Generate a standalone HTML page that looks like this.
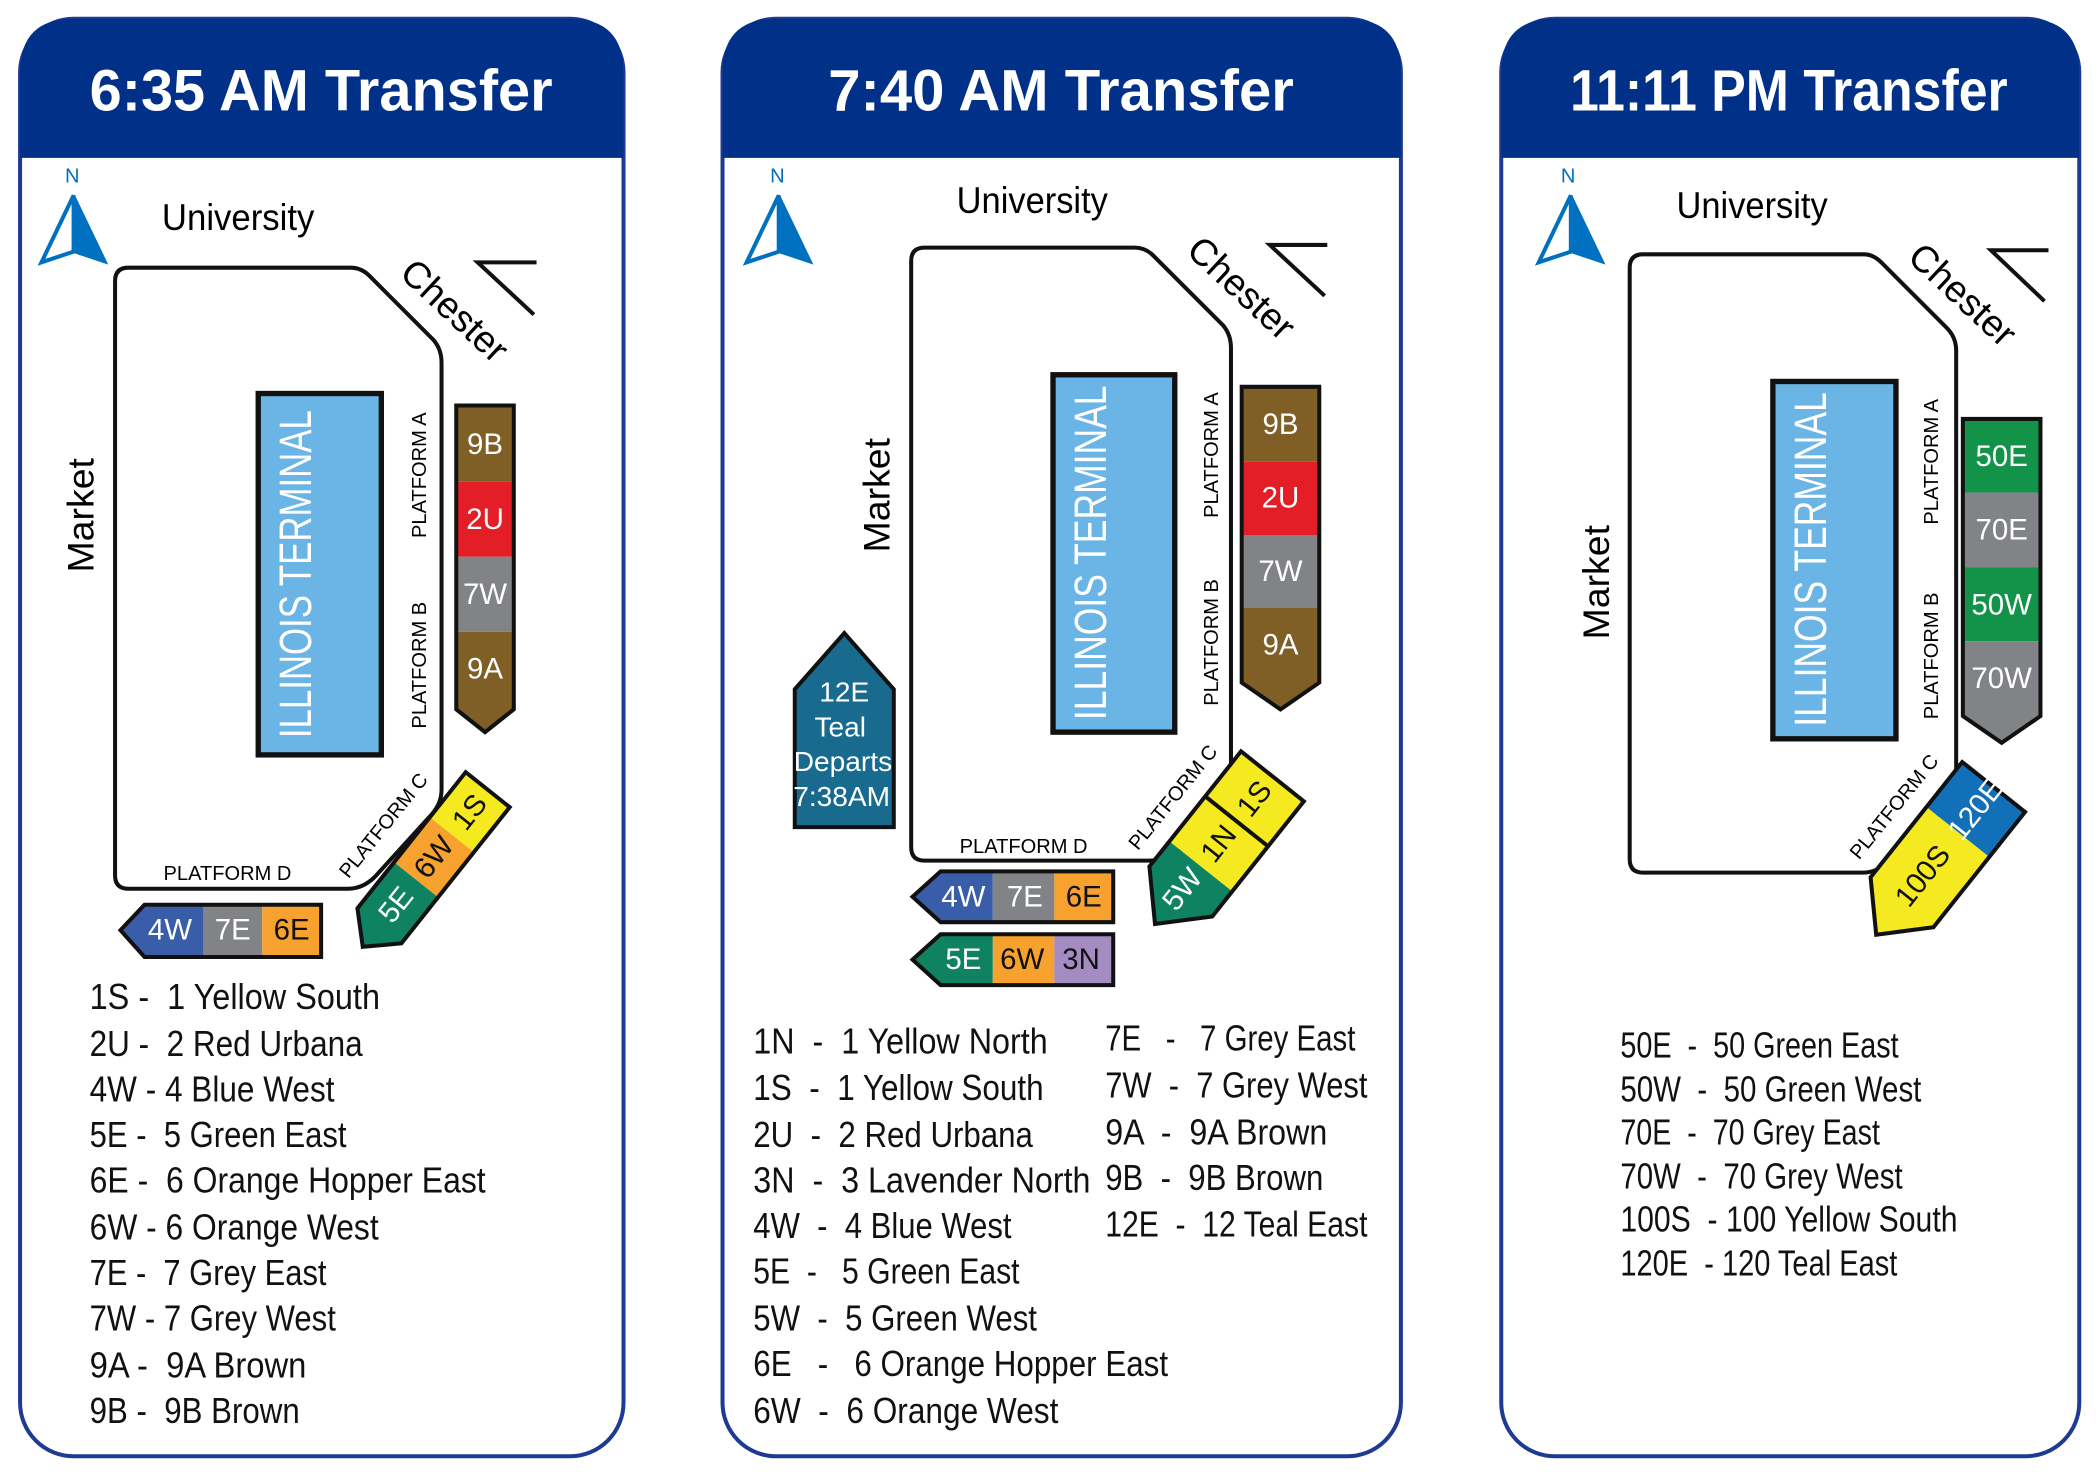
<!DOCTYPE html>
<html><head><meta charset="utf-8"><style>
html,body{margin:0;padding:0;background:#fff}
svg{display:block}
text{font-family:"Liberation Sans",sans-serif}
.lg{font-family:"Liberation Sans Narrow","Liberation Sans",sans-serif;font-size:27px;fill:#111;white-space:pre}
.st{font-size:22px;text-anchor:middle;dominant-baseline:central}
.pl{font-size:15px;text-anchor:middle;dominant-baseline:central}
.rd{font-size:28px;text-anchor:middle;dominant-baseline:central}
.tt{font-size:44px;font-weight:bold;fill:#fff;text-anchor:middle;dominant-baseline:central}
.it{font-size:34px;fill:#fff;text-anchor:middle;dominant-baseline:central}
.tl{font-family:"Liberation Sans Narrow","Liberation Sans",sans-serif;font-size:21px;fill:#fff;text-anchor:middle;dominant-baseline:central}
</style></head><body>
<svg width="2098" height="1483" viewBox="0 0 1568 1108" preserveAspectRatio="none" xmlns="http://www.w3.org/2000/svg">

<!-- ============ PANEL 1 ============ -->
<rect x="15" y="14" width="451" height="1074" rx="40" fill="#fff" stroke="#1f3a93" stroke-width="3"/>
<path d="M15,118 V54 Q15,14 55,14 H426 Q466,14 466,54 V118 Z" fill="#003087"/>
<text class="tt" x="240" y="68" textLength="346" lengthAdjust="spacingAndGlyphs">6:35 AM Transfer</text>

<text x="54" y="132" font-size="15" fill="#0070c0" text-anchor="middle" dominant-baseline="central">N</text>
<polygon points="55,146 31,196 55,188" fill="#fff" stroke="#0070c0" stroke-width="3"/>
<polygon points="55,146 55,188 79,196" fill="#0070c0" stroke="#0070c0" stroke-width="2"/>
<text x="121" y="172" font-size="28" textLength="114" lengthAdjust="spacingAndGlyphs">University</text>

<path d="M96,200 H262 Q270,200 276,206 L324,254 Q330,261 330,271 V590 Q330,600 323,608 L283,652 Q273,664 260,664 H96 Q86,664 86,654 V210 Q86,200 96,200Z" fill="none" stroke="#111" stroke-width="3"/>
<path d="M401,196 H357 L399,235" fill="none" stroke="#111" stroke-width="3"/>
<text class="rd" transform="translate(340,232) rotate(43)">Chester</text>
<text class="rd" transform="translate(60,385) rotate(-90)">Market</text>

<rect x="193" y="294" width="92" height="270" fill="#6ab4e6" stroke="#111" stroke-width="4"/>
<text class="it" transform="translate(221,429) rotate(-90)" textLength="245" lengthAdjust="spacingAndGlyphs">ILLINOIS TERMINAL</text>
<text class="pl" transform="translate(314,355) rotate(-90)">PLATFORM A</text>
<text class="pl" transform="translate(314,497) rotate(-90)">PLATFORM B</text>
<text class="pl" transform="translate(287,617) rotate(-51)">PLATFORM C</text>
<text class="pl" x="170" y="653">PLATFORM D</text>

<rect x="341" y="303" width="43" height="57" fill="#7f5f25"/>
<rect x="341" y="360" width="43" height="56" fill="#e41e26"/>
<rect x="341" y="416" width="43" height="56" fill="#818386"/>
<polygon points="341,472 384,472 384,530 362.5,547 341,530" fill="#7f5f25"/>
<polygon points="341,303 384,303 384,530 362.5,547 341,530" fill="none" stroke="#111" stroke-width="3"/>
<text class="st" x="362.5" y="332" fill="#fff">9B</text>
<text class="st" x="362.5" y="388" fill="#fff">2U</text>
<text class="st" x="362.5" y="444" fill="#fff">7W</text>
<text class="st" x="362.5" y="500" fill="#fff">9A</text>

<g transform="translate(364.5,590) rotate(38.5)">
<rect x="-21" y="0" width="42" height="43" fill="#f4ea1f"/>
<rect x="-21" y="43" width="42" height="43" fill="#f7a12f"/>
<polygon points="-21,86 21,86 21,130 0,150 -21,130" fill="#0f8262"/>
<polygon points="-21,0 21,0 21,130 0,150 -21,130" fill="none" stroke="#111" stroke-width="3"/>
<text class="st" transform="translate(0,21.5) rotate(-90)" fill="#111">1S</text>
<text class="st" transform="translate(0,64.5) rotate(-90)" fill="#111">6W</text>
<text class="st" transform="translate(0,110) rotate(-90)" fill="#fff">5E</text>
</g>

<polygon points="90,695 108,676 152,676 152,715 108,715" fill="#3a5daa"/>
<rect x="152" y="676" width="44" height="39" fill="#818386"/>
<rect x="196" y="676" width="44" height="39" fill="#f7a12f"/>
<polygon points="90,695 108,676 240,676 240,715 108,715" fill="none" stroke="#111" stroke-width="3"/>
<text class="st" x="127" y="695" fill="#fff">4W</text>
<text class="st" x="174" y="695" fill="#fff">7E</text>
<text class="st" x="218" y="695" fill="#111">6E</text>

<text class="lg" x="67" y="754" textLength="217" lengthAdjust="spacingAndGlyphs">1S -  1 Yellow South</text>
<text class="lg" x="67" y="789" textLength="204" lengthAdjust="spacingAndGlyphs">2U -  2 Red Urbana</text>
<text class="lg" x="67" y="823" textLength="183" lengthAdjust="spacingAndGlyphs">4W - 4 Blue West</text>
<text class="lg" x="67" y="857" textLength="192" lengthAdjust="spacingAndGlyphs">5E -  5 Green East</text>
<text class="lg" x="67" y="891" textLength="296" lengthAdjust="spacingAndGlyphs">6E -  6 Orange Hopper East</text>
<text class="lg" x="67" y="926" textLength="216" lengthAdjust="spacingAndGlyphs">6W - 6 Orange West</text>
<text class="lg" x="67" y="960" textLength="177" lengthAdjust="spacingAndGlyphs">7E -  7 Grey East</text>
<text class="lg" x="67" y="994" textLength="184" lengthAdjust="spacingAndGlyphs">7W - 7 Grey West</text>
<text class="lg" x="67" y="1029" textLength="162" lengthAdjust="spacingAndGlyphs">9A -  9A Brown</text>
<text class="lg" x="67" y="1063" textLength="157" lengthAdjust="spacingAndGlyphs">9B -  9B Brown</text>

<!-- ============ PANEL 2 ============ -->
<rect x="540" y="14" width="507" height="1074" rx="40" fill="#fff" stroke="#1f3a93" stroke-width="3"/>
<path d="M540,118 V54 Q540,14 580,14 H1007 Q1047,14 1047,54 V118 Z" fill="#003087"/>
<text class="tt" x="793" y="68" textLength="348" lengthAdjust="spacingAndGlyphs">7:40 AM Transfer</text>

<text x="581" y="132" font-size="15" fill="#0070c0" text-anchor="middle" dominant-baseline="central">N</text>
<polygon points="582,146 558,196 582,188" fill="#fff" stroke="#0070c0" stroke-width="3"/>
<polygon points="582,146 582,188 606,196" fill="#0070c0" stroke="#0070c0" stroke-width="2"/>
<text x="715" y="159" font-size="28" textLength="113" lengthAdjust="spacingAndGlyphs">University</text>

<path d="M691,185 H848 Q856,185 862,191 L914,243 Q920,250 920,260 V595 Q920,605 913,613 L880,636 Q870,643 858,643 H691 Q681,643 681,633 V195 Q681,185 691,185Z" fill="none" stroke="#111" stroke-width="3"/>
<path d="M992,183 H949 L990,221" fill="none" stroke="#111" stroke-width="3"/>
<text class="rd" transform="translate(928,215) rotate(43)">Chester</text>
<text class="rd" transform="translate(655,370) rotate(-90)">Market</text>

<rect x="787" y="280" width="91" height="267" fill="#6ab4e6" stroke="#111" stroke-width="4"/>
<text class="it" transform="translate(815,413) rotate(-90)" textLength="250" lengthAdjust="spacingAndGlyphs">ILLINOIS TERMINAL</text>
<text class="pl" transform="translate(906,340) rotate(-90)">PLATFORM A</text>
<text class="pl" transform="translate(906,480) rotate(-90)">PLATFORM B</text>
<text class="pl" transform="translate(877,596) rotate(-51)">PLATFORM C</text>
<text class="pl" x="765" y="633">PLATFORM D</text>

<rect x="928" y="289" width="58" height="56" fill="#7f5f25"/>
<rect x="928" y="345" width="58" height="55" fill="#e41e26"/>
<rect x="928" y="400" width="58" height="54" fill="#818386"/>
<polygon points="928,454 986,454 986,510 957,530 928,510" fill="#7f5f25"/>
<polygon points="928,289 986,289 986,510 957,530 928,510" fill="none" stroke="#111" stroke-width="3"/>
<text class="st" x="957" y="317" fill="#fff">9B</text>
<text class="st" x="957" y="372" fill="#fff">2U</text>
<text class="st" x="957" y="427" fill="#fff">7W</text>
<text class="st" x="957" y="482" fill="#fff">9A</text>

<polygon points="631,473 668,515 668,618 594,618 594,515" fill="#186a8f" stroke="#111" stroke-width="3"/>
<text class="tl" x="631" y="517">12E</text>
<text class="tl" x="628" y="543">Teal</text>
<text class="tl" x="630" y="569">Departs</text>
<text class="tl" x="629" y="595">7:38AM</text>

<g transform="translate(951,580) rotate(38.5)">
<rect x="-30" y="0" width="60" height="86" fill="#f4ea1f"/>
<polygon points="-30,86 30,86 30,110 0,141 -30,110" fill="#0f8262"/>
<line x1="-30" y1="43" x2="30" y2="43" stroke="#111" stroke-width="3"/>
<polygon points="-30,0 30,0 30,110 0,141 -30,110" fill="none" stroke="#111" stroke-width="3"/>
<text class="st" transform="translate(0,21.5) rotate(-90)" fill="#111">1S</text>
<text class="st" transform="translate(0,64.5) rotate(-90)" fill="#111">1N</text>
<text class="st" transform="translate(0,108) rotate(-90)" fill="#fff">5W</text>
</g>

<polygon points="682,670 703,651 742,651 742,689 703,689" fill="#3a5daa"/>
<rect x="742" y="651" width="46" height="38" fill="#818386"/>
<rect x="788" y="651" width="44" height="38" fill="#f7a12f"/>
<polygon points="682,670 703,651 832,651 832,689 703,689" fill="none" stroke="#111" stroke-width="3"/>
<text class="st" x="720" y="670" fill="#fff">4W</text>
<text class="st" x="766" y="670" fill="#fff">7E</text>
<text class="st" x="810" y="670" fill="#111">6E</text>

<polygon points="682,717 703,698 742,698 742,736 703,736" fill="#0f8262"/>
<rect x="742" y="698" width="46" height="38" fill="#f7a12f"/>
<rect x="788" y="698" width="44" height="38" fill="#a48bc2"/>
<polygon points="682,717 703,698 832,698 832,736 703,736" fill="none" stroke="#111" stroke-width="3"/>
<text class="st" x="720" y="717" fill="#fff">5E</text>
<text class="st" x="764" y="717" fill="#111">6W</text>
<text class="st" x="808" y="717" fill="#111">3N</text>

<text class="lg" x="563" y="787" textLength="220" lengthAdjust="spacingAndGlyphs">1N  -  1 Yellow North</text>
<text class="lg" x="563" y="822" textLength="217" lengthAdjust="spacingAndGlyphs">1S  -  1 Yellow South</text>
<text class="lg" x="563" y="857" textLength="209" lengthAdjust="spacingAndGlyphs">2U  -  2 Red Urbana</text>
<text class="lg" x="563" y="891" textLength="252" lengthAdjust="spacingAndGlyphs">3N  -  3 Lavender North</text>
<text class="lg" x="563" y="925" textLength="193" lengthAdjust="spacingAndGlyphs">4W  -  4 Blue West</text>
<text class="lg" x="563" y="959" textLength="199" lengthAdjust="spacingAndGlyphs">5E  -   5 Green East</text>
<text class="lg" x="563" y="994" textLength="212" lengthAdjust="spacingAndGlyphs">5W  -  5 Green West</text>
<text class="lg" x="563" y="1028" textLength="310" lengthAdjust="spacingAndGlyphs">6E   -   6 Orange Hopper East</text>
<text class="lg" x="563" y="1063" textLength="228" lengthAdjust="spacingAndGlyphs">6W  -  6 Orange West</text>
<text class="lg" x="826" y="785" textLength="187" lengthAdjust="spacingAndGlyphs">7E   -   7 Grey East</text>
<text class="lg" x="826" y="820" textLength="196" lengthAdjust="spacingAndGlyphs">7W  -  7 Grey West</text>
<text class="lg" x="826" y="855" textLength="166" lengthAdjust="spacingAndGlyphs">9A  -  9A Brown</text>
<text class="lg" x="826" y="889" textLength="163" lengthAdjust="spacingAndGlyphs">9B  -  9B Brown</text>
<text class="lg" x="826" y="924" textLength="196" lengthAdjust="spacingAndGlyphs">12E  -  12 Teal East</text>

<!-- ============ PANEL 3 ============ -->
<rect x="1122" y="14" width="432" height="1074" rx="40" fill="#fff" stroke="#1f3a93" stroke-width="3"/>
<path d="M1122,118 V54 Q1122,14 1162,14 H1514 Q1554,14 1554,54 V118 Z" fill="#003087"/>
<text class="tt" x="1337" y="68" textLength="327" lengthAdjust="spacingAndGlyphs">11:11 PM Transfer</text>

<text x="1172" y="132" font-size="15" fill="#0070c0" text-anchor="middle" dominant-baseline="central">N</text>
<polygon points="1174,146 1150,196 1174,188" fill="#fff" stroke="#0070c0" stroke-width="3"/>
<polygon points="1174,146 1174,188 1198,196" fill="#0070c0" stroke="#0070c0" stroke-width="2"/>
<text x="1253" y="163" font-size="28" textLength="113" lengthAdjust="spacingAndGlyphs">University</text>

<path d="M1228,190 H1393 Q1400,190 1406,196 L1455,245 Q1462,252 1462,262 V585 Q1462,595 1455,603 L1410,645 Q1402,652 1392,652 H1228 Q1218,652 1218,642 V200 Q1218,190 1228,190Z" fill="none" stroke="#111" stroke-width="3"/>
<path d="M1531,187 H1488 L1528,225" fill="none" stroke="#111" stroke-width="3"/>
<text class="rd" transform="translate(1467,220) rotate(43)">Chester</text>
<text class="rd" transform="translate(1193,435) rotate(-90)">Market</text>

<rect x="1325" y="285" width="92" height="267" fill="#6ab4e6" stroke="#111" stroke-width="4"/>
<text class="it" transform="translate(1353,418) rotate(-90)" textLength="250" lengthAdjust="spacingAndGlyphs">ILLINOIS TERMINAL</text>
<text class="pl" transform="translate(1444,345) rotate(-90)">PLATFORM A</text>
<text class="pl" transform="translate(1444,490) rotate(-90)">PLATFORM B</text>
<text class="pl" transform="translate(1416,603) rotate(-51)">PLATFORM C</text>

<rect x="1467" y="313" width="58" height="55" fill="#13934a"/>
<rect x="1467" y="368" width="58" height="56" fill="#818386"/>
<rect x="1467" y="424" width="58" height="55" fill="#13934a"/>
<polygon points="1467,479 1525,479 1525,535 1496,555 1467,535" fill="#818386"/>
<polygon points="1467,313 1525,313 1525,535 1496,555 1467,535" fill="none" stroke="#111" stroke-width="3"/>
<text class="st" x="1496" y="341" fill="#fff">50E</text>
<text class="st" x="1496" y="396" fill="#fff">70E</text>
<text class="st" x="1496" y="452" fill="#fff">50W</text>
<text class="st" x="1496" y="507" fill="#fff">70W</text>

<g transform="translate(1490,588) rotate(38.5)">
<rect x="-30" y="0" width="60" height="43" fill="#1170b8"/>
<polygon points="-30,43 30,43 30,110 0,141 -30,110" fill="#f4ea1f"/>
<polygon points="-30,0 30,0 30,110 0,141 -30,110" fill="none" stroke="#111" stroke-width="3"/>
<text class="st" transform="translate(0,21.5) rotate(-90)" fill="#fff" font-size="20">120E</text>
<text class="st" transform="translate(0,85) rotate(-90)" fill="#111" font-size="21">100S</text>
</g>

<text class="lg" x="1211" y="790" textLength="208" lengthAdjust="spacingAndGlyphs">50E  -  50 Green East</text>
<text class="lg" x="1211" y="823" textLength="225" lengthAdjust="spacingAndGlyphs">50W  -  50 Green West</text>
<text class="lg" x="1211" y="855" textLength="194" lengthAdjust="spacingAndGlyphs">70E  -  70 Grey East</text>
<text class="lg" x="1211" y="888" textLength="211" lengthAdjust="spacingAndGlyphs">70W  -  70 Grey West</text>
<text class="lg" x="1211" y="920" textLength="252" lengthAdjust="spacingAndGlyphs">100S  - 100 Yellow South</text>
<text class="lg" x="1211" y="953" textLength="207" lengthAdjust="spacingAndGlyphs">120E  - 120 Teal East</text>
</svg>
</body></html>
